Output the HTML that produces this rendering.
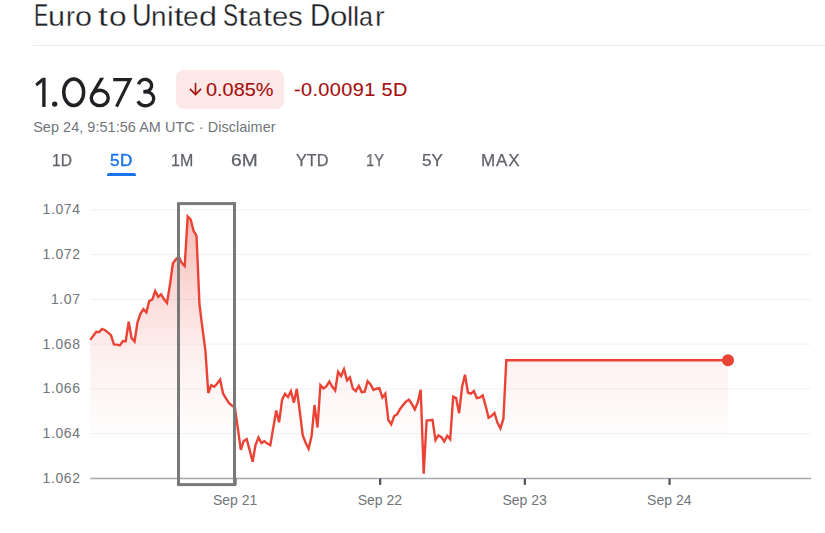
<!DOCTYPE html>
<html>
<head>
<meta charset="utf-8">
<title>Euro to United States Dollar</title>
<style>
  html, body { margin: 0; padding: 0; background: #ffffff; }
  body { width: 825px; height: 533px; overflow: hidden; position: relative;
         font-family: "Liberation Sans", sans-serif; color: #202124; }
  .t { position: absolute; white-space: nowrap; line-height: 1; margin: 0; padding: 0; }
  #title { left: 33.55px; top: 0.2px; color: #202124; font-size: 10px; -webkit-text-stroke: 0.3px #fff; }
  #title span { display: inline-block; white-space: nowrap; line-height: 1; transform-origin: 0 50%; }
  #divider { position: absolute; left: 33px; top: 45px; width: 792px; height: 1px; background: #e8eaed; }
  #price { left: 33px; top: 72px; font-size: 41px; color: transparent; }
  #pill { position: absolute; left: 176.4px; top: 70px; width: 107.2px; height: 38.5px; border-radius: 8px; background: #fce8e6; }
  #pct { left: 205.7px; top: 81.5px; font-size: 17.8px; color: #a50e0e; transform-origin: 0 0; transform: scaleX(1.12); -webkit-text-stroke: 0.1px #a50e0e; }
  #chg { left: 294.2px; top: 81.5px; font-size: 17.8px; color: #a50e0e; transform-origin: 0 0; transform: scaleX(1.12); letter-spacing: 0.33px; -webkit-text-stroke: 0.1px #a50e0e; }
  #stamp { left: 33.2px; top: 120.4px; font-size: 14.4px; color: #70757a; letter-spacing: 0.07px; }
  .tab { top: 152.7px; font-size: 15.6px; color: #5f6368; -webkit-text-stroke: 0.25px currentColor; transform-origin: 0 0; will-change: transform; }
  #tab5d { color: #1a73e8; -webkit-text-stroke: 0.4px #1a73e8; letter-spacing: 0.5px; }
  #uline { position: absolute; left: 107.2px; top: 172.5px; width: 28.4px; height: 3px; background: #1a73e8; border-radius: 2px 2px 0 0; }
  .yl { font-size: 14px; color: #70757a; right: 744.4px; text-align: right; letter-spacing: 0.6px; }
  .xl { font-size: 14px; color: #70757a; transform: translateX(-50%); top: 492.6px; letter-spacing: 0px; }
  svg { position: absolute; left: 0; top: 0; }
</style>
</head>
<body>
<div class="t" id="title"><span style="width:14.61px;font-size:31px;transform:scaleX(0.687)">E</span><span style="width:18.05px;font-size:28.4px;transform:scaleX(1.077)">u</span><span style="width:9.12px;font-size:28.4px;transform:scaleX(0.944)">r</span><span style="width:20.31px;font-size:28.4px;transform:scaleX(1.075)">o</span> <span style="width:10.37px;font-size:28.4px;transform:scaleX(1.257)">t</span><span style="width:20.14px;font-size:28.4px;transform:scaleX(1.112)">o</span> <span style="width:19.03px;font-size:31px;transform:scaleX(0.877)">U</span><span style="width:16.25px;font-size:28.4px;transform:scaleX(0.978)">n</span><span style="width:6.83px;font-size:28.4px;transform:scaleX(1.056)">i</span><span style="width:9.55px;font-size:28.4px;transform:scaleX(1.215)">t</span><span style="width:15.77px;font-size:28.4px;transform:scaleX(0.992)">e</span><span style="width:20.70px;font-size:28.4px;transform:scaleX(1.142)">d</span> <span style="width:15.00px;font-size:31px;transform:scaleX(0.729)">S</span><span style="width:10.91px;font-size:28.4px;transform:scaleX(1.215)">t</span><span style="width:14.62px;font-size:28.4px;transform:scaleX(0.863)">a</span><span style="width:8.87px;font-size:28.4px;transform:scaleX(1.132)">t</span><span style="width:16.43px;font-size:28.4px;transform:scaleX(1.030)">e</span><span style="width:18.76px;font-size:28.4px;transform:scaleX(1.036)">s</span> <span style="width:19.79px;font-size:31px;transform:scaleX(0.905)">D</span><span style="width:17.65px;font-size:28.4px;transform:scaleX(1.105)">o</span><span style="width:5.80px;font-size:28.4px;transform:scaleX(0.978)">l</span><span style="width:5.98px;font-size:28.4px;transform:scaleX(0.978)">l</span><span style="width:15.46px;font-size:28.4px;transform:scaleX(0.884)">a</span><span style="width:20.00px;font-size:28.4px;transform:scaleX(1.014)">r</span></div>
<div id="divider"></div>
<div class="t" id="price">1.0673</div>
<div id="pill"></div>
<div class="t" id="pct">0.085%</div>
<div class="t" id="chg">-0.00091 5D</div>
<div class="t" id="stamp">Sep 24, 9:51:56 AM UTC · Disclaimer</div>

<div class="t tab" style="left:52px;transform:scaleX(0.988)">1D</div>
<div class="t tab" id="tab5d" style="left:110.4px;transform:scaleX(1.10)">5D</div>
<div class="t tab" style="left:171px;transform:scaleX(1.025)">1M</div>
<div class="t tab" style="left:231px;transform:scaleX(1.229)">6M</div>
<div class="t tab" style="left:295.5px;transform:scaleX(1.04)">YTD</div>
<div class="t tab" style="left:365.7px;transform:scaleX(0.935)">1Y</div>
<div class="t tab" style="left:422.3px;transform:scaleX(1.09)">5Y</div>
<div class="t tab" style="left:481px;transform:scaleX(1.092);letter-spacing:0.8px">MAX</div>
<div id="uline"></div>

<div class="t yl" style="top:202.2px">1.074</div>
<div class="t yl" style="top:247px">1.072</div>
<div class="t yl" style="top:291.8px">1.07</div>
<div class="t yl" style="top:336.6px">1.068</div>
<div class="t yl" style="top:381.4px">1.066</div>
<div class="t yl" style="top:426.2px">1.064</div>
<div class="t yl" style="top:471px">1.062</div>

<div class="t xl" style="left:235.2px">Sep 21</div>
<div class="t xl" style="left:379.9px">Sep 22</div>
<div class="t xl" style="left:524.6px">Sep 23</div>
<div class="t xl" style="left:669.3px">Sep 24</div>

<svg width="825" height="533" viewBox="0 0 825 533">
  <defs>
    <clipPath id="c6"><rect x="80" y="77.8" width="40" height="40"/></clipPath>
    <linearGradient id="g" gradientUnits="userSpaceOnUse" x1="0" y1="214" x2="0" y2="478.5">
      <stop offset="0" stop-color="#ea4335" stop-opacity="0.36"/>
      <stop offset="0.15" stop-color="#ea4335" stop-opacity="0.28"/>
      <stop offset="0.325" stop-color="#ea4335" stop-opacity="0.18"/>
      <stop offset="0.495" stop-color="#ea4335" stop-opacity="0.095"/>
      <stop offset="0.56" stop-color="#ea4335" stop-opacity="0.072"/>
      <stop offset="0.70" stop-color="#ea4335" stop-opacity="0.04"/>
      <stop offset="0.80" stop-color="#ea4335" stop-opacity="0.018"/>
      <stop offset="0.90" stop-color="#ea4335" stop-opacity="0"/>
      <stop offset="1" stop-color="#ea4335" stop-opacity="0"/>
    </linearGradient>
  </defs>
  <!-- gridlines -->
  <g stroke="#eff1f3" stroke-width="1">
    <line x1="90.3" x2="810.9" y1="209.85" y2="209.85"/>
    <line x1="90.3" x2="810.9" y1="254.62" y2="254.62"/>
    <line x1="90.3" x2="810.9" y1="299.39" y2="299.39"/>
    <line x1="90.3" x2="810.9" y1="344.16" y2="344.16"/>
    <line x1="90.3" x2="810.9" y1="388.93" y2="388.93"/>
    <line x1="90.3" x2="810.9" y1="433.70" y2="433.70"/>
  </g>
  <!-- price 1.0673 drawn as geometric glyphs -->
  <g id="priceglyphs" fill="none" stroke="#202124" stroke-width="3.4">
    <polygon points="42.2,77.8 45.6,77.8 45.6,106.9 42.2,106.9" fill="#202124" stroke="none"/>
    <polygon points="42.3,77.8 35.3,83.7 37.0,86.3 42.3,81.9" fill="#202124" stroke="none"/>
    <circle cx="54.7" cy="104.1" r="2.7" fill="#202124" stroke="none"/>
    <ellipse cx="73.7" cy="92.25" rx="9.95" ry="13.2" stroke-width="3.5"/>
    <ellipse cx="99.75" cy="97.95" rx="8.5" ry="7.7"/>
    <path d="M103.2 75.9 L92.2 94.6" clip-path="url(#c6)"/>
    <path d="M113.2 79.6 L129.9 79.6 L116.5 106.6" stroke-width="3.2"/>
    <path d="M138.6 84.3 A6.6 6.2 0 1 1 143.6 91.6"/>
    <path d="M143.6 91.7 A8.2 7.15 0 1 1 137.9 101.2"/>
  </g>
  <!-- arrow in pill -->
  <g fill="none" stroke="#a50e0e" stroke-width="1.6" stroke-linecap="butt" stroke-linejoin="miter">
    <path d="M195.5 82.9 V94.2"/>
    <path d="M189.9 88.9 L195.5 94.6 L201.1 88.9"/>
  </g>
  <!-- area + line -->
  <path d="M90.3 339.9 L96.2 331.8 L99.2 332.1 L102.1 329.0 L105.1 330.2 L111.0 335.2 L113.9 344.4 L116.9 344.6 L119.8 345.4 L122.8 341.2 L125.7 341.2 L128.7 321.8 L131.6 338.1 L134.6 341.5 L137.5 322.4 L140.5 313.5 L143.4 309.2 L146.4 312.4 L149.3 300.8 L152.3 299.6 L155.2 291.0 L158.2 296.9 L161.1 294.4 L164.1 299.3 L167.0 302.9 L170.0 284.5 L172.9 263.3 L175.9 259.3 L178.8 256.7 L181.8 263.0 L184.7 266.0 L187.7 216.5 L190.6 219.3 L193.6 231.0 L196.5 235.7 L199.5 304.6 L202.4 328.0 L205.4 350.5 L208.3 393.0 L211.3 385.2 L214.2 386.7 L217.2 383.5 L220.1 379.6 L223.1 393.5 L226.0 398.3 L229.0 403.2 L231.9 405.5 L234.9 407.6 L237.8 428.2 L240.8 449.9 L243.7 441.0 L246.7 439.2 L249.6 449.9 L252.6 461.7 L255.5 445.0 L258.5 437.4 L261.4 443.1 L264.4 441.3 L267.3 443.6 L270.3 445.2 L273.2 428.2 L276.2 410.5 L279.1 422.3 L282.1 399.6 L285.0 393.9 L288.0 397.0 L290.9 391.2 L293.9 402.6 L296.8 388.8 L299.8 411.5 L302.7 435.1 L305.7 443.0 L308.6 448.7 L311.6 436.1 L314.5 405.0 L317.5 427.5 L320.4 385.1 L323.4 388.4 L326.3 386.4 L329.3 381.6 L332.2 386.6 L335.2 390.5 L338.1 371.9 L341.1 376.0 L344.0 369.2 L347.0 380.3 L349.9 377.3 L352.9 388.7 L355.8 391.2 L358.8 385.8 L361.7 392.1 L364.7 391.7 L367.6 381.1 L370.6 384.4 L373.5 389.9 L376.5 388.7 L379.4 388.2 L382.4 397.5 L385.3 393.7 L388.3 419.9 L391.2 424.3 L394.2 416.0 L397.1 414.4 L400.1 409.0 L403.0 405.1 L406.0 401.6 L408.9 399.7 L411.9 404.1 L414.8 409.4 L417.8 402.1 L420.7 389.9 L423.7 473.8 L426.6 420.6 L429.6 420.3 L432.5 419.9 L435.5 440.1 L438.4 435.3 L441.4 437.2 L444.3 441.4 L447.3 435.8 L450.2 439.3 L453.2 396.6 L456.1 398.1 L459.1 413.2 L462.1 386.8 L465.0 374.8 L468.0 392.7 L470.9 393.6 L473.9 391.0 L476.8 398.2 L479.8 397.5 L482.7 395.4 L485.7 406.0 L488.6 417.9 L491.6 415.9 L494.5 413.0 L497.5 422.8 L500.4 428.3 L503.4 418.8 L506.3 360.3 L728.0 360.3 L728 478.5 L90.3 478.5 Z" fill="url(#g)" stroke="none"/>
  <!-- baseline and ticks -->
  <line x1="90.3" x2="811.3" y1="478.5" y2="478.5" stroke="#a4a9af" stroke-width="1.6"/>
  <g stroke="#53575d" stroke-width="2.3">
    <line x1="235.45" x2="235.45" y1="478.5" y2="484.9"/>
    <line x1="380.15" x2="380.15" y1="478.5" y2="484.9"/>
    <line x1="524.85" x2="524.85" y1="478.5" y2="484.9"/>
    <line x1="669.55" x2="669.55" y1="478.5" y2="484.9"/>
  </g>
  <path d="M90.3 339.9 L96.2 331.8 L99.2 332.1 L102.1 329.0 L105.1 330.2 L111.0 335.2 L113.9 344.4 L116.9 344.6 L119.8 345.4 L122.8 341.2 L125.7 341.2 L128.7 321.8 L131.6 338.1 L134.6 341.5 L137.5 322.4 L140.5 313.5 L143.4 309.2 L146.4 312.4 L149.3 300.8 L152.3 299.6 L155.2 291.0 L158.2 296.9 L161.1 294.4 L164.1 299.3 L167.0 302.9 L170.0 284.5 L172.9 263.3 L175.9 259.3 L178.8 256.7 L181.8 263.0 L184.7 266.0 L187.7 216.5 L190.6 219.3 L193.6 231.0 L196.5 235.7 L199.5 304.6 L202.4 328.0 L205.4 350.5 L208.3 393.0 L211.3 385.2 L214.2 386.7 L217.2 383.5 L220.1 379.6 L223.1 393.5 L226.0 398.3 L229.0 403.2 L231.9 405.5 L234.9 407.6 L237.8 428.2 L240.8 449.9 L243.7 441.0 L246.7 439.2 L249.6 449.9 L252.6 461.7 L255.5 445.0 L258.5 437.4 L261.4 443.1 L264.4 441.3 L267.3 443.6 L270.3 445.2 L273.2 428.2 L276.2 410.5 L279.1 422.3 L282.1 399.6 L285.0 393.9 L288.0 397.0 L290.9 391.2 L293.9 402.6 L296.8 388.8 L299.8 411.5 L302.7 435.1 L305.7 443.0 L308.6 448.7 L311.6 436.1 L314.5 405.0 L317.5 427.5 L320.4 385.1 L323.4 388.4 L326.3 386.4 L329.3 381.6 L332.2 386.6 L335.2 390.5 L338.1 371.9 L341.1 376.0 L344.0 369.2 L347.0 380.3 L349.9 377.3 L352.9 388.7 L355.8 391.2 L358.8 385.8 L361.7 392.1 L364.7 391.7 L367.6 381.1 L370.6 384.4 L373.5 389.9 L376.5 388.7 L379.4 388.2 L382.4 397.5 L385.3 393.7 L388.3 419.9 L391.2 424.3 L394.2 416.0 L397.1 414.4 L400.1 409.0 L403.0 405.1 L406.0 401.6 L408.9 399.7 L411.9 404.1 L414.8 409.4 L417.8 402.1 L420.7 389.9 L423.7 473.8 L426.6 420.6 L429.6 420.3 L432.5 419.9 L435.5 440.1 L438.4 435.3 L441.4 437.2 L444.3 441.4 L447.3 435.8 L450.2 439.3 L453.2 396.6 L456.1 398.1 L459.1 413.2 L462.1 386.8 L465.0 374.8 L468.0 392.7 L470.9 393.6 L473.9 391.0 L476.8 398.2 L479.8 397.5 L482.7 395.4 L485.7 406.0 L488.6 417.9 L491.6 415.9 L494.5 413.0 L497.5 422.8 L500.4 428.3 L503.4 418.8 L506.3 360.3 L728.0 360.3" fill="none" stroke="#ea4335" stroke-width="2.4" stroke-linejoin="miter" stroke-miterlimit="4"/>
  <circle cx="728" cy="360.3" r="6" fill="#ea4335"/>
  <!-- selection box -->
  <rect x="178.5" y="203.6" width="56" height="281" fill="none" stroke="#797979" stroke-width="3"/>
</svg>
</body>
</html>
